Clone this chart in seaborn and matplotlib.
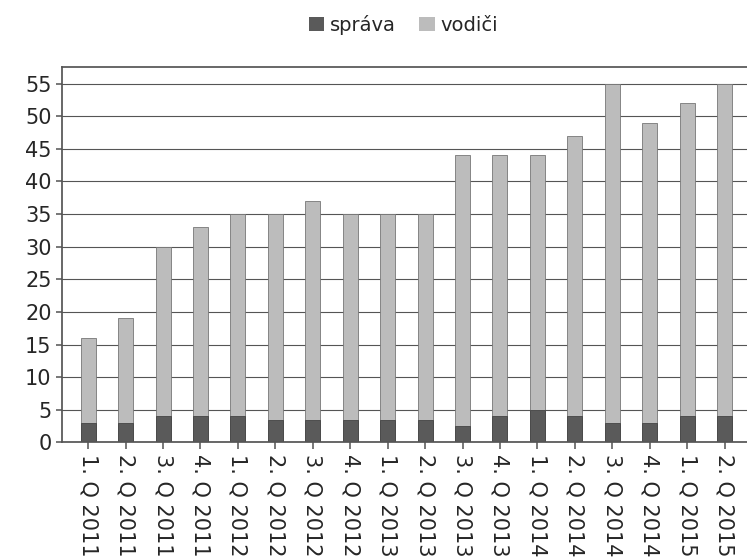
import matplotlib.pyplot as plt
import pandas as pd
import seaborn as sns
from matplotlib.patches import Patch

quarters = [
    "1. Q 2011", "2. Q 2011", "3. Q 2011", "4. Q 2011",
    "1. Q 2012", "2. Q 2012", "3. Q 2012", "4. Q 2012",
    "1. Q 2013", "2. Q 2013", "3. Q 2013", "4. Q 2013",
    "1. Q 2014", "2. Q 2014", "3. Q 2014", "4. Q 2014",
    "1. Q 2015", "2. Q 2015",
]
sprava = [3, 3, 4, 4, 4, 3.5, 3.5, 3.5, 3.5, 3.5, 2.5, 4, 5, 4, 3, 3, 4, 4]
vodici = [13, 16, 26, 29, 31, 31.5, 33.5, 31.5, 31.5, 31.5, 41.5, 40, 39, 43, 52, 46, 48, 51]

dark = "#5a5a5a"
light = "#bcbcbc"

df = pd.DataFrame({"quarter": quarters, "sprava": sprava, "vodici": vodici})
df["total"] = df["sprava"] + df["vodici"]

sns.set_theme(style="ticks")
plt.rcParams["font.family"] = ["DejaVu Sans"]

fig = plt.figure(figsize=(7.47, 5.6), dpi=100)
ax = fig.add_axes([0.083, 0.21, 0.917, 0.67])

# total bar (vodiči on top), then správa drawn over the base
sns.barplot(data=df, x="quarter", y="total", color=light, width=0.4,
            saturation=1, edgecolor="#777777", linewidth=0.6, ax=ax)
sns.barplot(data=df, x="quarter", y="sprava", color=dark, width=0.4,
            saturation=1, edgecolor="#444444", linewidth=0.6, ax=ax)

ax.set_ylim(0, 57.5)
ax.set_yticks(range(0, 56, 5))
ax.yaxis.grid(True, color="#555555", linewidth=0.8)
ax.set_axisbelow(True)
ax.set_xlabel("")
ax.set_ylabel("")
ax.tick_params(axis="y", labelsize=15, length=4, color="#666666")
ax.tick_params(axis="x", labelsize=15, rotation=-90, length=5, color="#666666")
ax.spines["right"].set_visible(False)
for s in ["left", "bottom", "top"]:
    ax.spines[s].set_color("#555555")
ax.set_xlim(-0.7, len(quarters) - 0.4)

handles = [Patch(facecolor=dark, edgecolor="none", label="správa"),
           Patch(facecolor=light, edgecolor="none", label="vodiči")]
fig.legend(handles=handles, loc="upper center", bbox_to_anchor=(0.54, 1.005),
           ncol=2, frameon=False, fontsize=14, handlelength=0.8,
           handleheight=0.8, columnspacing=1.2, handletextpad=0.3)

fig.savefig("out.png", dpi=100)
